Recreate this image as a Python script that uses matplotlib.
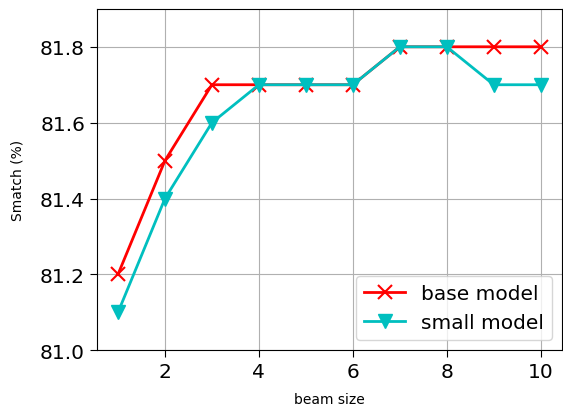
import matplotlib
matplotlib.use("Agg")
import matplotlib.pyplot as plt

beam_sizes = [1, 2, 3, 4, 5, 6, 7, 8, 9, 10]
base_model = [81.2, 81.5, 81.7, 81.7, 81.7, 81.7, 81.8, 81.8, 81.8, 81.8]
small_model = [81.1, 81.4, 81.6, 81.7, 81.7, 81.7, 81.8, 81.8, 81.7, 81.7]
xticks = [2, 4, 6, 8, 10]
yticks = [81.0, 81.2, 81.4, 81.6, 81.8]

fig = plt.figure(figsize=(5.63, 4.10), dpi=100)
ax = fig.add_axes([0.172, 0.143, 0.826, 0.833])
ax.plot(beam_sizes, base_model, color='red', marker='x', markersize=10, markeredgewidth=1.5, linewidth=2, label='base model')
ax.plot(beam_sizes, small_model, color='c', marker='v', markersize=10, linewidth=2, label='small model')
ax.set_ylim(81.0, 81.9)
ax.set_xlim(0.55, 10.45)
ax.set_xticks(xticks)
ax.set_yticks(yticks)
ax.tick_params(labelsize=14.5, length=5)
ax.set_xlabel('beam size', fontsize=10, labelpad=8)
ax.set_ylabel('Smatch (%)', fontsize=10, labelpad=11)
ax.grid(True)
ax.legend(loc='lower right', fontsize=14.5)
fig.savefig('out.png', dpi=100)
